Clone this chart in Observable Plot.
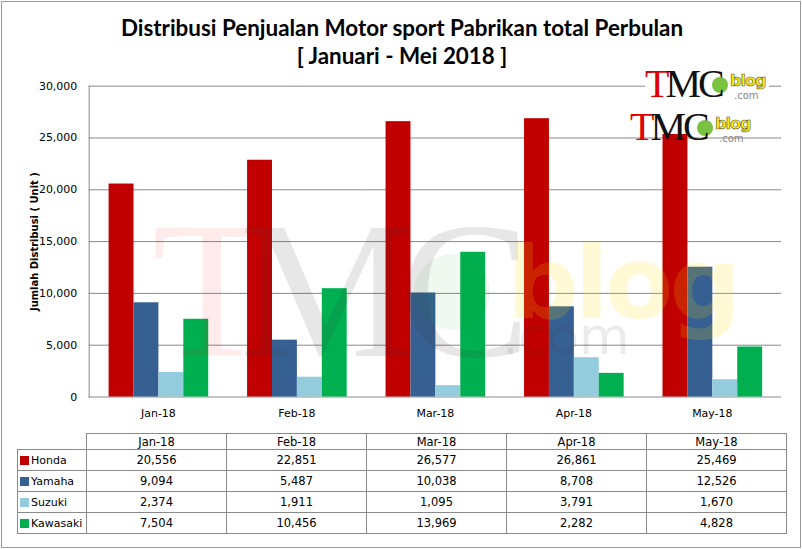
<!DOCTYPE html>
<html>
<head>
<meta charset="utf-8">
<script src="https://cdn.jsdelivr.net/npm/d3@7"></script>
<script src="https://cdn.jsdelivr.net/npm/@observablehq/plot@0.6"></script>
<style>
  html, body { margin:0; padding:0; background:#fff; }
  #wrap { position:absolute; left:1px; top:1px; width:798px; height:545px; border:1px solid #999; overflow:hidden; background:#fff; }
  #title { position:absolute; left:0; top:12px; width:800px; text-align:center; font-family:Lato, "Open Sans", sans-serif; font-weight:bold; font-size:22.4px; line-height:28px; color:#000; }
  #chart { position:absolute; left:-1px; top:-1px; }
  #wm { position:absolute; left:0; top:0; width:800px; height:549px; pointer-events:none; }
  table { position:absolute; left:15px; top:431px; border-collapse:collapse; font-family:"DejaVu Sans", sans-serif; font-size:11.5px; color:#000; }
  td { border:1px solid #8a8a8a; text-align:center; padding:0; height:20px; }
  tr.hd td { height:15px; }
  td.lg { text-align:left; width:66px; padding-left:2px; font-size:11px; white-space:nowrap; }
  td.mc { width:139px; }
  td.empty { border:none; }
  .sw { display:inline-block; width:9px; height:9px; margin-right:2px; vertical-align:-1px; }
</style>
</head>
<body>
<div id="wrap">
  <div id="chart"></div>
  <div id="title">Distribusi Penjualan Motor sport Pabrikan total Perbulan<br>[ Januari - Mei 2018 ]</div>
  <div id="tbl"></div>
</div>
<script>
const months = ["Jan-18", "Feb-18", "Mar-18", "Apr-18", "May-18"];
const brands = ["Honda", "Yamaha", "Suzuki", "Kawasaki"];
const honda    = [20556, 22851, 26577, 26861, 25469];
const yamaha   = [9094, 5487, 10038, 8708, 12526];
const suzuki   = [2374, 1911, 1095, 3791, 1670];
const kawasaki = [7504, 10456, 13969, 2282, 4828];
const yTicks = [0, 5000, 10000, 15000, 20000, 25000, 30000];
const colors = ["#C00000", "#376092", "#93CDDD", "#00B050"];
const yTitle = "Jumlah Distribusi ( Unit )";

const series = [honda, yamaha, suzuki, kawasaki];
const data = months.flatMap((m, i) => brands.map((b, j) => ({month: m, brand: b, value: series[j][i]})));

const chart = Plot.plot({
  width: 802,
  height: 420,
  marginTop: 85,
  marginBottom: 23,
  marginLeft: 86,
  marginRight: 18,
  style: {fontFamily: "'DejaVu Sans', sans-serif", fontSize: "11px", color: "#000", background: "transparent"},
  fx: {domain: months, paddingInner: 0, paddingOuter: 0, label: null, axis: "bottom", tickSize: 0, tickPadding: 12},
  x: {domain: brands, axis: null, paddingInner: 0, paddingOuter: 0.76},
  y: {domain: [0, 30000], ticks: yTicks, tickFormat: d3.format(","), tickSize: 0, tickPadding: 12,
      label: yTitle, labelArrow: "none", labelAnchor: "center", labelOffset: 58},
  color: {domain: brands, range: colors},
  marks: [
    Plot.ruleY(yTicks, {stroke: "#8a8a8a", strokeWidth: 1}),
    Plot.barY(data, {fx: "month", x: "brand", y: "value", fill: "brand", inset: 0}),
    Plot.frame({anchor: "left", facetAnchor: "left", stroke: "#8a8a8a"})
  ]
});
document.getElementById("chart").appendChild(chart);
const labG = chart.querySelector('[aria-label="y-axis label"]');
if (labG) {
  labG.querySelectorAll("text, tspan").forEach(t => {
    if (t.textContent.includes("→") || t.textContent.includes("↑")) t.textContent = yTitle;
  });
  labG.setAttribute("font-weight", "bold");
  labG.setAttribute("font-size", "10px");
}

// watermark overlay (single text element with tspans)
const wm = d3.select("#wrap").append("svg").attr("id", "wm").attr("width", 800).attr("height", 549);
wm.append("circle").attr("cx", 450).attr("cy", 290).attr("r", 38).attr("fill", "rgba(0,160,0,0.06)");
const wt = wm.append("text").attr("x", 150).attr("y", 354);
wt.append("tspan").attr("font-family", "'Liberation Serif', serif").attr("font-size", 196).attr("fill", "rgba(255,0,0,0.08)").text("T");
wt.append("tspan").attr("font-family", "'Liberation Serif', serif").attr("font-size", 196).attr("fill", "rgba(60,60,60,0.12)").attr("letter-spacing", -14).attr("dx", -32).text("MC");
wt.append("tspan").attr("x", 505).attr("y", 316).attr("font-family", "'DejaVu Sans', sans-serif").attr("font-weight", "bold").attr("font-size", 100).attr("fill", "rgba(255,220,0,0.16)").attr("letter-spacing", -4).text("blog");
wt.append("tspan").attr("x", 500).attr("y", 352).attr("font-family", "'DejaVu Sans', sans-serif").attr("font-size", 52).attr("fill", "rgba(60,60,60,0.10)").attr("letter-spacing", 0).text(".com");

// logos top-right
function logo(x, y, rh) {
  const g = wm.append("g").attr("transform", `translate(${x},${y})`);
  g.append("rect").attr("x", 0).attr("y", -30).attr("width", 124).attr("height", rh).attr("fill", "#fff");
  g.append("circle").attr("cx", 75).attr("cy", -12).attr("r", 8).attr("fill", "#7cc242");
  const t = g.append("text").attr("x", 0).attr("y", 0);
  t.append("tspan").attr("font-family", "'Liberation Serif', serif").attr("font-size", 40).attr("fill", "#e00000").text("T");
  t.append("tspan").attr("font-family", "'Liberation Serif', serif").attr("font-size", 40).attr("fill", "#111").attr("letter-spacing", -3).attr("dx", -4).text("MC");
  t.append("tspan").attr("x", 85).attr("y", -11).attr("font-family", "'DejaVu Sans', sans-serif").attr("font-weight", "bold").attr("font-size", 16).attr("fill", "#ffee00").attr("stroke", "#555").attr("stroke-width", 0.6).attr("letter-spacing", -1).text("blog");
  t.append("tspan").attr("x", 89).attr("y", 2).attr("font-family", "'DejaVu Sans', sans-serif").attr("font-size", 10).attr("fill", "#888").attr("stroke", "none").attr("font-weight", "normal").attr("letter-spacing", 0).text(".com");
}
logo(643, 95, 35);
logo(628, 138, 24);

// data table
let html = '<table><tr class="hd"><td class="empty"></td>' + months.map(m => `<td class="mc">${m}</td>`).join("") + "</tr>";
brands.forEach((b, j) => {
  html += `<tr><td class="lg"><span class="sw" style="background:${colors[j]}"></span>${b}</td>` +
    series[j].map(v => `<td>${d3.format(",")(v)}</td>`).join("") + "</tr>";
});
html += "</table>";
document.getElementById("tbl").innerHTML = html;
</script>
</body>
</html>
